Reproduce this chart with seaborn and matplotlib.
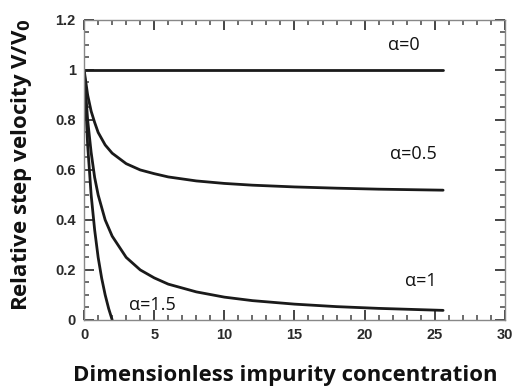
import numpy as np
import pandas as pd
import seaborn as sns
import matplotlib

matplotlib.use('Agg')
import matplotlib.pyplot as plt
from matplotlib.ticker import MultipleLocator

# values
x_a0 = [0, 25.6]
y_a0 = [1.0, 1.0]

x_a05 = [0, 0.25, 0.5, 0.75, 1, 1.5, 2, 3, 4, 5, 6, 8, 10, 12, 15, 18, 21, 25.6]
y_a05 = [1.0, 0.90, 0.835, 0.79, 0.75, 0.70, 0.667, 0.625, 0.60, 0.585, 0.572,
         0.556, 0.546, 0.539, 0.532, 0.527, 0.523, 0.519]

x_a1 = [0, 0.25, 0.5, 0.75, 1, 1.5, 2, 3, 4, 5, 6, 8, 10, 12, 15, 18, 21, 25.6]
y_a1 = [1.0, 0.80, 0.67, 0.57, 0.50, 0.40, 0.335, 0.25, 0.20, 0.168, 0.143,
        0.112, 0.091, 0.077, 0.063, 0.053, 0.046, 0.038]

x_a15 = [0, 0.25, 0.5, 0.75, 1, 1.25, 1.5, 1.75, 2.0]
y_a15 = [1.0, 0.70, 0.50, 0.36, 0.25, 0.167, 0.10, 0.045, 0.0]

labels = ['α=0', 'α=0.5', 'α=1', 'α=1.5']
label_x = [22.8, 23.5, 24.0, 4.85]
label_y = [1.10, 0.665, 0.157, 0.058]

frames = []
for name, xs, ys in zip(labels, [x_a0, x_a05, x_a1, x_a15], [y_a0, y_a05, y_a1, y_a15]):
    frames.append(pd.DataFrame({'c': xs, 'v': ys, 'alpha': name}))
df = pd.concat(frames, ignore_index=True)

sns.set_theme(style='ticks')
plt.rcParams['font.family'] = ['Open Sans', 'DejaVu Sans']

fig = plt.figure(figsize=(5.13, 3.92), dpi=100)
ax = fig.add_axes([0.164, 0.184, 0.820, 0.765])

sns.lineplot(data=df, x='c', y='v', hue='alpha', palette=['#1a1a1a'] * 4,
             linewidth=2.0, legend=False, sort=False, ax=ax)

ax.set_xlim(0, 30)
ax.set_ylim(0, 1.2)
ax.set_xticks(range(0, 31, 5))
ax.set_xticklabels([str(v) for v in range(0, 31, 5)],
                   fontfamily='Liberation Sans', fontweight='bold')
ax.set_yticks([0, 0.2, 0.4, 0.6, 0.8, 1.0, 1.2])
ax.set_yticklabels(['0', '0.2', '0.4', '0.6', '0.8', '1', '1.2'],
                   fontfamily='Liberation Sans', fontweight='bold')
ax.xaxis.set_minor_locator(MultipleLocator(1))
ax.yaxis.set_minor_locator(MultipleLocator(0.05))
ax.set_xlabel('')
ax.set_ylabel('')

for sp in ax.spines.values():
    sp.set_color('#888888')
    sp.set_linewidth(1.0)

ax.tick_params(which='both', direction='in', top=True, right=True, color='#444444')
ax.tick_params(which='major', length=7, width=1.4)
ax.tick_params(which='minor', length=3.5, width=1.1)
ax.tick_params(labelsize=10.5, labelcolor='#2a2a2a', pad=6)

for t, lx, ly in zip(labels, label_x, label_y):
    ax.text(lx, ly, t, fontsize=13, ha='center', va='center', color='#111111')

fig.text(0.557, 0.043, 'Dimensionless impurity concentration', fontsize=15.9,
         fontweight='bold', ha='center', va='center', color='#111111')
fig.text(0.041, 0.58, 'Relative step velocity V/V$_\\mathbf{0}$', fontsize=16,
         fontweight='bold', ha='center', va='center', rotation=90, color='#111111')

fig.savefig('out.png', dpi=100)
